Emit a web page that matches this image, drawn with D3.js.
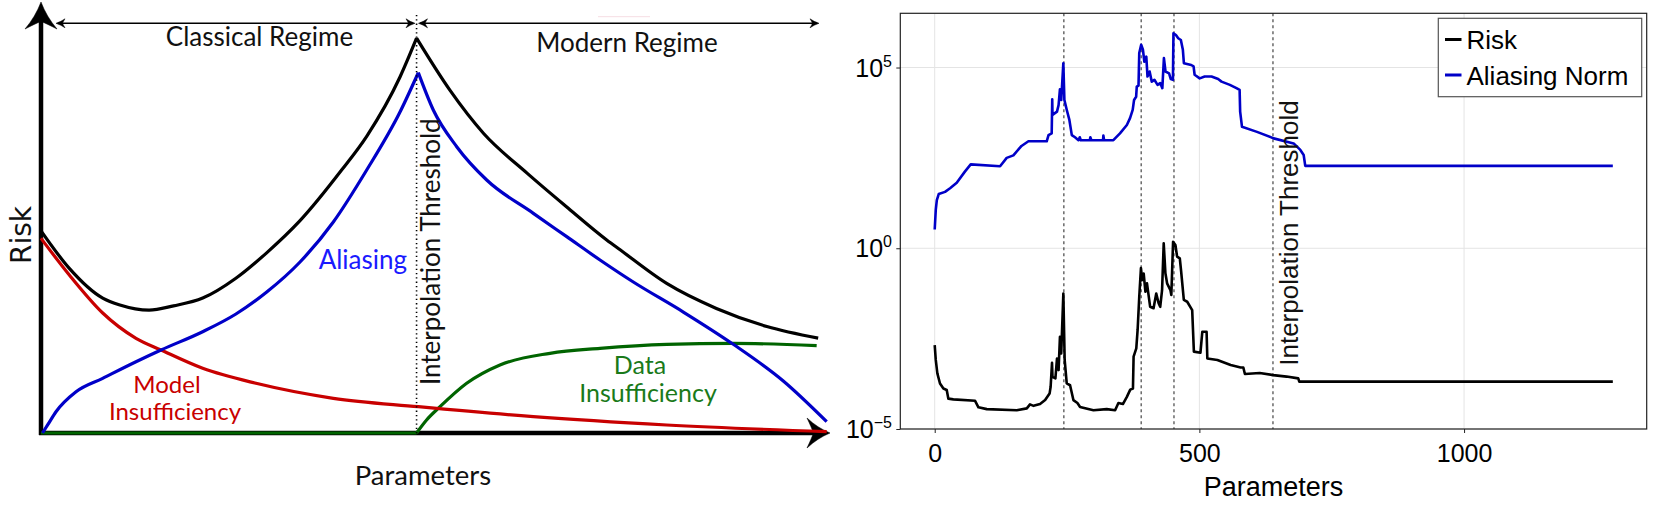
<!DOCTYPE html>
<html>
<head>
<meta charset="utf-8">
<script src="https://cdn.jsdelivr.net/npm/d3@7"></script>
<style>
  html, body { margin: 0; padding: 0; background: #fff; }
  svg { display: block; }
</style>
</head>
<body>
<div id="chart"></div>
<script>
// ---------------- Left panel: schematic (arbitrary units 0..100) ----------------
const thresholdSchematic = 47.6;
const totalRiskBefore = [[0,46.9],[3.59,38.2],[7.82,31.3],[10.0,29.7],[13.7,28.5],[16.8,29.5],[20.5,31.3],[24.7,35.9],[28.6,41.8],[32.8,49.2],[38.1,61.0],[41.3,68.9],[45.5,82.6],[47.6,91.6]];
const totalRiskAfter  = [[47.6,91.6],[51.8,79.6],[56.1,69.5],[61.6,60.3],[66.6,52.5],[71.7,44.8],[73.4,42.5],[79.3,34.7],[85.6,28.9],[92.0,24.7],[98.5,22.0]];
const aliasingBefore  = [[0.19,0],[0.84,1.86],[1.90,4.94],[4.44,9.58],[7.82,12.69],[12.04,16.54],[15.21,19.26],[20.49,23.50],[24.71,27.61],[28.61,32.71],[32.83,39.68],[37.05,48.96],[41.28,61.02],[45.50,74.48],[47.82,83.60]];
const aliasingAfter   = [[47.82,83.60],[49.72,74.94],[52.69,66.43],[56.49,58.70],[62.40,50.97],[66.63,45.55],[70.85,40.14],[75.07,35.03],[81.41,28.07],[87.74,20.58],[94.08,12.06],[99.58,2.62]];
const modelInsufficiency = [[0,45.17],[3.59,36.66],[7.82,27.84],[12.04,21.97],[15.21,19.26],[20.49,15.01],[27.25,11.53],[37.05,8.05],[47.82,6.10],[62.40,3.78],[79.30,1.86],[99.58,0.30]];
const dataInsufficiencyBefore = [[0,0],[47.6,0]];
const dataInsufficiencyAfter  = [[47.6,0],[48.87,3.02],[50.57,6.10],[53.95,11.53],[58.17,15.78],[64.51,18.49],[70.85,19.65],[79.30,20.58],[87.74,20.81],[98.31,20.26]];

// ---------------- Right panel: measured curves ----------------
// [parameters, log10(value)]
const aliasingNorm = [[0,0.52],[2,1.06],[4,1.33],[7.6,1.50],[19.5,1.56],[29,1.66],[41.6,1.81],[57,2.12],[68,2.32],[123.5,2.27],[136,2.50],[148.6,2.57],[164,2.83],[177,2.96],[211.6,2.96],[215,3.13],[221,3.18],[222,4.12],[222.5,3.69],[231,3.78],[234,3.96],[236.6,4.40],[239,4.10],[243,5.12],[245,4.10],[249.4,3.83],[254.4,3.55],[259,3.13],[265,3.07],[271.6,2.99],[274,3.07],[276,2.99],[293,2.99],[294,3.07],[296,2.99],[318,2.99],[318.6,3.12],[320,2.99],[337.5,2.99],[350,3.18],[363,3.41],[369,3.60],[374,3.83],[376.6,4.10],[380.5,4.19],[381.7,4.47],[385,4.50],[386.4,5.40],[390,5.63],[393.4,5.49],[396,5.16],[399.7,5.30],[402,4.75],[406,4.89],[410,4.61],[415,4.66],[421,4.52],[426,4.57],[430,4.43],[433,5.26],[436,4.89],[442.7,4.84],[446,4.68],[450,4.66],[451,5.95],[455.7,5.90],[460,5.81],[465,5.76],[468.8,5.49],[470.7,5.12],[484.6,5.07],[489,5.03],[491,4.80],[500.6,4.70],[510,4.75],[522.9,4.75],[535.5,4.68],[541.8,4.61],[557.6,4.52],[570,4.43],[576,4.38],[577,3.78],[580.5,3.36],[608.8,3.22],[640.3,3.04],[678,2.90],[690.7,2.72],[697,2.58],[700,2.28],[1281,2.28]];
const risk = [[0,-2.68],[2,-3.09],[5,-3.46],[10,-3.74],[16.4,-3.88],[22.7,-3.92],[25.8,-4.16],[35.3,-4.18],[76.3,-4.22],[82.6,-4.40],[98.3,-4.45],[155,-4.48],[174,-4.43],[180,-4.32],[186.7,-4.36],[199,-4.31],[208.6,-4.20],[217,-4.02],[219,-3.83],[221.6,-3.17],[222.5,-3.56],[228,-3.60],[231,-3.05],[234,-3.37],[236.6,-2.45],[239,-2.91],[243,-1.25],[245.5,-3.09],[249.4,-3.74],[255.7,-3.79],[262,-4.20],[269.6,-4.28],[274.6,-4.39],[299.8,-4.48],[325,-4.45],[340.8,-4.48],[347,-4.28],[355.5,-4.31],[363,-4.11],[369.4,-3.91],[374.5,-3.88],[375.7,-3.00],[380.8,-2.77],[383.3,-2.26],[386.4,-1.34],[389.6,-0.55],[392,-0.88],[394.8,-0.70],[398,-1.20],[401,-0.97],[407,-1.62],[413.4,-1.66],[418.5,-1.25],[423,-1.52],[426,-1.62],[429.5,-1.16],[432.6,0.14],[435.8,-0.69],[439,-0.97],[445.3,-1.16],[447,-1.29],[450.3,0.18],[454.7,0.09],[457.9,-0.23],[463,-0.28],[465.6,-0.65],[470.6,-1.43],[477,-1.48],[486.4,-1.71],[489.6,-2.86],[502,-2.89],[505.5,-2.31],[513.6,-2.31],[515,-3.05],[534,-3.09],[559,-3.23],[578,-3.30],[583,-3.30],[586,-3.48],[614,-3.45],[639.5,-3.51],[664.7,-3.55],[686.7,-3.60],[688.7,-3.69],[1281,-3.69]];
const markerLines = [244, 390, 452, 639];
const xTicks = [0, 500, 1000];
const yTickExponents = [-5, 0, 5];
const legendLabels = ["Risk", "Aliasing Norm"];

// ---------------- drawing ----------------
const W = 1661, H = 516;
const svg = d3.select("#chart").append("svg").attr("width", W).attr("height", H);

function arrowHead(g, tip, dir, len, half, color) {
  const [tx, ty] = tip, [ux, uy] = dir, px = -uy, py = ux;
  const P = (a, b) => [tx - ux * len * a + px * half * b, ty - uy * len * a + py * half * b];
  const b1 = P(1, 1), b2 = P(1, -1), notch = P(0.72, 0);
  const c1 = P(0.55, 0.35), c2 = P(0.8, 0.35), c3 = P(0.8, -0.35), c4 = P(0.55, -0.35);
  const p = d3.path();
  p.moveTo(tx, ty);
  p.quadraticCurveTo(...c1, ...b1);
  p.quadraticCurveTo(...c2, ...notch);
  p.quadraticCurveTo(...c3, ...b2);
  p.quadraticCurveTo(...c4, tx, ty);
  p.closePath();
  g.append("path").attr("d", p.toString()).attr("fill", color).attr("stroke", color).attr("stroke-width", 0.5);
}

// ---- Left panel ----
const LG = svg.append("g");
const lx = d3.scaleLinear().domain([0, 100]).range([41, 830]);
const ly = d3.scaleLinear().domain([0, 100]).range([433, 2]);
const leftFont = "Lato, 'Open Sans', sans-serif";

LG.append("line").attr("x1", lx(0)).attr("y1", ly(0) + 2).attr("x2", lx(0)).attr("y2", 20)
  .attr("stroke", "#000").attr("stroke-width", 4.5);
LG.append("line").attr("x1", lx(0) - 2).attr("y1", ly(0)).attr("x2", 815).attr("y2", ly(0))
  .attr("stroke", "#000").attr("stroke-width", 4.5);
arrowHead(LG, [lx(0), 2], [0, -1], 27, 16, "#000");
arrowHead(LG, [830, ly(0)], [1, 0], 23, 15, "#000");

const regY = 23.3;
LG.append("line").attr("x1", 58).attr("x2", 413).attr("y1", regY).attr("y2", regY).attr("stroke", "#000").attr("stroke-width", 1.6);
LG.append("line").attr("x1", 420).attr("x2", 817).attr("y1", regY).attr("y2", regY).attr("stroke", "#000").attr("stroke-width", 1.6);
arrowHead(LG, [56, regY], [-1, 0], 9, 4.5, "#000");
arrowHead(LG, [415, regY], [1, 0], 9, 4.5, "#000");
arrowHead(LG, [418.5, regY], [-1, 0], 9, 4.5, "#000");
arrowHead(LG, [819, regY], [1, 0], 9, 4.5, "#000");
LG.append("line").attr("x1", 598).attr("x2", 650).attr("y1", 16.7).attr("y2", 16.7).attr("stroke", "#f6dde3").attr("stroke-width", 1);

const lline = d3.line().x(d => lx(d[0])).y(d => ly(d[1])).curve(d3.curveMonotoneX);
const curveStyle = [
  [dataInsufficiencyBefore, "#006400"], [dataInsufficiencyAfter, "#006400"],
  [modelInsufficiency, "#c80000"],
  [aliasingBefore, "#0000c8"], [aliasingAfter, "#0000c8"],
  [totalRiskBefore, "#000"], [totalRiskAfter, "#000"]
];
curveStyle.forEach(([data, col]) => {
  LG.append("path").attr("d", lline(data)).attr("fill", "none").attr("stroke", col)
    .attr("stroke-width", 3.2).attr("stroke-linejoin", "round");
});

LG.append("line").attr("x1", lx(thresholdSchematic)).attr("x2", lx(thresholdSchematic))
  .attr("y1", 15).attr("y2", ly(0)).attr("stroke", "#000").attr("stroke-width", 1.6)
  .attr("stroke-dasharray", "1.3,3");

const ltext = (x, y, s, col, size, anchor = "middle", rot = 0) => {
  const t = LG.append("text").attr("x", x).attr("y", y).text(s).attr("fill", col)
    .attr("font-family", leftFont).attr("font-size", size).attr("text-anchor", anchor);
  if (rot) t.attr("transform", `rotate(${rot},${x},${y})`);
  return t;
};
ltext(259.5, 46, "Classical Regime", "#111", 26);
ltext(627, 52, "Modern Regime", "#111", 26);
ltext(407, 269, "Aliasing", "#1a1aff", 26, "end");
ltext(167, 393, "Model", "#c80000", 24);
ltext(175, 420, "Insufficiency", "#c80000", 24);
ltext(640, 374, "Data", "#1a7a1a", 25);
ltext(648, 401.5, "Insufficiency", "#1a7a1a", 25);
ltext(423, 485, "Parameters", "#111", 27.5);
ltext(31, 235, "Risk", "#111", 28, "middle", -90).attr("font-family", "'DejaVu Sans', sans-serif");
ltext(440, 251.7, "Interpolation Threshold", "#111", 26, "middle", -90);

// ---- Right panel ----
const RG = svg.append("g");
const pL = 900.3, pR = 1646.7, pT = 13.3, pB = 429;
const rx = d3.scaleLinear().domain([-65, 1345]).range([pL, pR]);
const ry = d3.scaleLog().domain([1e-5, Math.pow(10, 6.5)]).range([pB, pT]);
const rFont = "'Liberation Sans', Arial, sans-serif";

RG.append("defs").append("clipPath").attr("id", "rclip").append("rect")
  .attr("x", pL).attr("y", pT).attr("width", pR - pL).attr("height", pB - pT);

RG.selectAll(".gx").data(xTicks).enter().append("line")
  .attr("x1", d => rx(d)).attr("x2", d => rx(d)).attr("y1", pT).attr("y2", pB)
  .attr("stroke", "#e4e4e4").attr("stroke-width", 1);
RG.selectAll(".gy").data(yTickExponents).enter().append("line")
  .attr("x1", pL).attr("x2", pR).attr("y1", d => ry(Math.pow(10, d))).attr("y2", d => ry(Math.pow(10, d)))
  .attr("stroke", "#e4e4e4").attr("stroke-width", 1);

RG.selectAll(".vm").data(markerLines).enter().append("line")
  .attr("x1", d => rx(d)).attr("x2", d => rx(d)).attr("y1", pT).attr("y2", pB)
  .attr("stroke", "#333").attr("stroke-width", 1.1).attr("stroke-dasharray", "3,3");

const rline = d3.line().x(d => rx(d[0])).y(d => ry(Math.pow(10, d[1])));
RG.append("path").attr("d", rline(aliasingNorm)).attr("fill", "none").attr("stroke", "#0000c8")
  .attr("stroke-width", 2.6).attr("stroke-linejoin", "round").attr("clip-path", "url(#rclip)");
RG.append("path").attr("d", rline(risk)).attr("fill", "none").attr("stroke", "#000")
  .attr("stroke-width", 2.6).attr("stroke-linejoin", "round").attr("clip-path", "url(#rclip)");

RG.append("text").attr("x", 1298).attr("y", 233).attr("transform", "rotate(-90,1298,233)")
  .attr("text-anchor", "middle").attr("font-family", rFont).attr("font-size", 26).attr("fill", "#111")
  .text("Interpolation Threshold");

RG.append("rect").attr("x", pL).attr("y", pT).attr("width", pR - pL).attr("height", pB - pT)
  .attr("fill", "none").attr("stroke", "#222").attr("stroke-width", 1.2);

const xAxis = d3.axisBottom(rx).tickValues(xTicks).tickSize(4).tickFormat(d3.format("d"));
const gx = RG.append("g").attr("transform", `translate(0,${pB})`).call(xAxis);
gx.select(".domain").remove();
gx.selectAll("line").attr("stroke", "#222");
gx.selectAll("text").attr("font-family", rFont).attr("font-size", 25).attr("fill", "#000").attr("dy", "1.04em");

const yAxis = d3.axisLeft(ry).tickValues(yTickExponents.map(e => Math.pow(10, e))).tickSize(4).tickFormat(() => "");
const gy = RG.append("g").attr("transform", `translate(${pL},0)`).call(yAxis);
gy.select(".domain").remove();
gy.selectAll("line").attr("stroke", "#222");
gy.selectAll("text").remove();
yTickExponents.forEach(e => {
  const t = RG.append("text").attr("x", 892).attr("y", ry(Math.pow(10, e)) + 9)
    .attr("text-anchor", "end").attr("font-family", rFont).attr("font-size", 25).attr("fill", "#000");
  t.append("tspan").text("10");
  t.append("tspan").attr("dy", -10).attr("font-size", 16).text(e < 0 ? "\u2212" + Math.abs(e) : String(e));
});

RG.append("text").attr("x", (pL + pR) / 2).attr("y", 496).attr("text-anchor", "middle")
  .attr("font-family", rFont).attr("font-size", 27).attr("fill", "#000").text("Parameters");

const lg = RG.append("g");
lg.append("rect").attr("x", 1438.3).attr("y", 18.3).attr("width", 203.4).attr("height", 78.4)
  .attr("fill", "#fff").attr("stroke", "#555").attr("stroke-width", 1.2);
const legendColors = ["#000", "#0000c8"];
legendLabels.forEach((lab, i) => {
  const cy = 39.5 + i * 35.5;
  lg.append("line").attr("x1", 1445).attr("x2", 1461.5).attr("y1", cy).attr("y2", cy)
    .attr("stroke", legendColors[i]).attr("stroke-width", 3);
  lg.append("text").attr("x", 1466.5).attr("y", cy + 9.5).attr("font-family", rFont)
    .attr("font-size", 26).attr("fill", "#000").text(lab);
});
</script>
</body>
</html>
